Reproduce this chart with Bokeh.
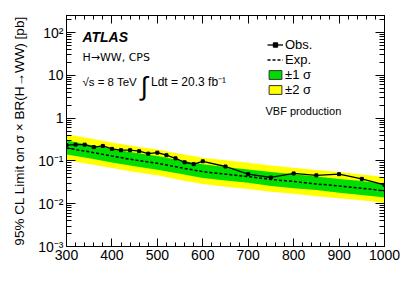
from bokeh.plotting import figure
from bokeh.models import (ColumnDataSource, FixedTicker, LinearAxis, LogAxis, Range1d,
                          Label, Legend, LegendItem, CustomJSTickFormatter, CustomLabelingPolicy)
from bokeh.embed import file_html
from bokeh.resources import INLINE

# ---------------- data ----------------
mass_band = [300, 350, 400, 450, 500, 550, 600, 650, 700, 750, 800, 850, 900, 950, 1000]
exp_limit = [0.20, 0.163, 0.13, 0.105, 0.088, 0.07, 0.056, 0.049, 0.043, 0.037, 0.033, 0.029, 0.026, 0.023, 0.020]
band_p1 = [0.30, 0.24, 0.19, 0.155, 0.13, 0.103, 0.083, 0.072, 0.063, 0.055, 0.049, 0.043, 0.038, 0.034, 0.029]
band_m1 = [0.142, 0.116, 0.092, 0.075, 0.062, 0.05, 0.04, 0.035, 0.031, 0.026, 0.023, 0.021, 0.018, 0.016, 0.014]
band_p2 = [0.42, 0.34, 0.27, 0.22, 0.185, 0.147, 0.118, 0.103, 0.09, 0.078, 0.069, 0.061, 0.055, 0.048, 0.042]
band_m2 = [0.104, 0.085, 0.068, 0.055, 0.046, 0.036, 0.029, 0.025, 0.022, 0.019, 0.017, 0.015, 0.0135, 0.012, 0.0104]

mass_obs = [300, 320, 340, 360, 380, 400, 420, 440, 460, 480, 500, 520, 540, 560, 580, 600,
            650, 700, 750, 800, 850, 900, 950, 1000]
obs_limit = [0.233, 0.241, 0.240, 0.210, 0.224, 0.191, 0.178, 0.178, 0.169, 0.148, 0.156, 0.136,
             0.115, 0.093, 0.084, 0.098, 0.074, 0.049, 0.041, 0.051, 0.046, 0.049, 0.038, 0.0275]

x_tick_values = [300, 400, 500, 600, 700, 800, 900, 1000]
x_minor_values = list(range(300, 1001, 20))
y_tick_values = [1e-3, 1e-2, 1e-1, 1, 10, 100]
y_tick_labels = ["10\u207b\u00b3", "10\u207b\u00b2", "10\u207b\u00b9", "1", "10", "10\u00b2"]
y_minor_values = [m * 10.0 ** e for e in range(-3, 3) for m in range(2, 10)]

FONT = "Liberation Sans"
GREEN = "#00dd00"
YELLOW = "#ffff00"

p = figure(width=407, height=295, output_backend="svg", toolbar_location=None,
           y_axis_type="log", x_range=Range1d(300, 1000), y_range=Range1d(1e-3, 250),
           min_border_left=66, min_border_right=23, min_border_top=15, min_border_bottom=49)
p.grid.visible = False
p.outline_line_color = "black"
p.outline_line_width = 1
p.background_fill_color = "white"
p.border_fill_color = "white"

xt = FixedTicker(ticks=x_tick_values, minor_ticks=x_minor_values)
yt = FixedTicker(ticks=y_tick_values, minor_ticks=y_minor_values)
yfmt = CustomJSTickFormatter(args=dict(vals=y_tick_values, labs=y_tick_labels), code="""
const i = vals.findIndex(v => Math.abs(Math.log10(v) - Math.log10(tick)) < 1e-6);
return i >= 0 ? labs[i] : "";
""")

def style_axis(ax, major, minor):
    ax.major_tick_in = major
    ax.major_tick_out = 0
    ax.minor_tick_in = minor
    ax.minor_tick_out = 0
    ax.axis_line_color = "black"
    ax.major_tick_line_color = "black"
    ax.minor_tick_line_color = "black"
    ax.major_label_text_font = FONT
    ax.major_label_text_font_size = "14px"
    ax.major_label_text_color = "black"

xa = p.xaxis[0]
xa.ticker = xt
style_axis(xa, 8, 4)
xa.major_label_standoff = 3

ya = p.yaxis[0]
ya.ticker = yt
ya.formatter = yfmt
style_axis(ya, 9, 5)
ya.major_label_standoff = 3
ya.axis_label = "95% CL Limit on \u03c3 \u00d7 BR(H\u2192WW) [pb]"
ya.axis_label_text_font = FONT
ya.axis_label_text_font_size = "13.5px"
ya.axis_label_text_font_style = "normal"
ya.axis_label_text_color = "black"
ya.axis_label_standoff = 8

top_ax = LinearAxis(ticker=xt)
style_axis(top_ax, 8, 4)
top_ax.major_label_policy = CustomLabelingPolicy(code="for (const i of indices) indices.unset(i)")
top_ax.major_label_text_font_size = "1px"
top_ax.major_label_standoff = 0
p.add_layout(top_ax, "above")

right_ax = LogAxis(ticker=yt)
style_axis(right_ax, 9, 5)
right_ax.major_label_policy = CustomLabelingPolicy(code="for (const i of indices) indices.unset(i)")
right_ax.major_label_text_font_size = "1px"
right_ax.major_label_standoff = 0
p.add_layout(right_ax, "right")

src = ColumnDataSource(dict(m=mass_band, exp=exp_limit, p1=band_p1, m1=band_m1, p2=band_p2, m2=band_m2))
p.varea(x="m", y1="m2", y2="p2", source=src, fill_color=YELLOW)
p.varea(x="m", y1="m1", y2="p1", source=src, fill_color=GREEN)
r_exp = p.line(x="m", y="exp", source=src, line_color="black", line_width=1.5, line_dash="3 2")
r_obs = p.line(mass_obs, obs_limit, line_color="black", line_width=1.3)
r_obs_m = p.scatter(mass_obs, obs_limit, marker="square", size=3, color="black")

d_g = p.quad(left=[250], right=[250], top=[1e-4], bottom=[1e-4], fill_color=GREEN, line_color="#333333", line_width=1)
d_y = p.quad(left=[250], right=[250], top=[1e-4], bottom=[1e-4], fill_color=YELLOW, line_color="#333333", line_width=1)

legend = Legend(items=[
    LegendItem(label="Obs.", renderers=[r_obs, r_obs_m]),
    LegendItem(label="Exp.", renderers=[r_exp]),
    LegendItem(label="\u00b11 \u03c3", renderers=[d_g]),
    LegendItem(label="\u00b12 \u03c3", renderers=[d_y]),
], location=(201, 149))
legend.background_fill_alpha = 0
legend.border_line_alpha = 0
legend.padding = 0
legend.margin = 0
legend.spacing = 0
legend.glyph_width = 16
legend.glyph_height = 11
legend.label_height = 15
legend.label_standoff = 2
legend.label_text_font = FONT
legend.label_text_font_size = "13px"
legend.label_text_color = "black"
p.add_layout(legend)

def txt(x, y, t, size, style="normal", font=FONT, xo=0, yo=0):
    lab = Label(x=x, y=y, text=t, text_font=font, text_font_size=size, text_font_style=style,
                text_color="black", text_baseline="alphabetic", text_align="left",
                x_offset=xo, y_offset=yo)
    p.add_layout(lab)

txt(335, 77.6, "ATLAS", "14px", "bold italic")
txt(335, 26.3, "H\u2192WW, CPS", "11px", font="DejaVu Sans")
txt(335, 6.86, "\u221as = 8 TeV", "11.5px")
txt(463, 6.86, "\u222b", "26px", yo=-4)
txt(486, 6.86, "Ldt = 20.3 fb\u207b\u00b9", "12px")
txt(738, 1.436, "VBF production", "11px")

# x axis title, right aligned under the frame
txt(1000, 1e-3, "m", "14px", xo=-52, yo=-38)
txt(1000, 1e-3, "H", "10px", xo=-41, yo=-42)
txt(1000, 1e-3, "[GeV]", "14px", xo=-33, yo=-38)

open("out.html", "w").write(file_html(p, INLINE))
